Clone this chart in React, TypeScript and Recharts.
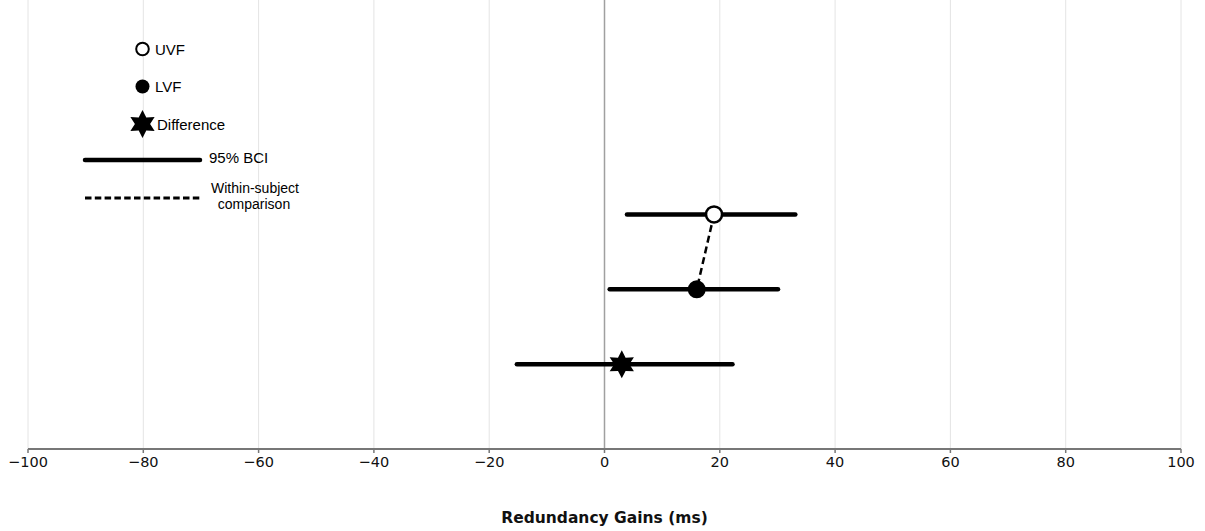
import { ScatterChart, Scatter, XAxis, YAxis, CartesianGrid, ReferenceLine, Label } from 'recharts';

// rows from bottom to top
const conditions = ['Difference', 'LVF', 'UVF'];
const rowLevels = [1, 2, 3];
const means = [3, 16, 19];
const lowerBci = [-15.2, 0.9, 3.9];
const upperBci = [22.2, 30.1, 33.1];

const xTicks = [-100, -80, -60, -40, -20, 0, 20, 40, 60, 80, 100];

const FONT = '"Liberation Sans", Arial, sans-serif';
const AXIS_FONT = '"DejaVu Sans", Verdana, sans-serif';

const point = (i: number) => ({ x: means[i], y: rowLevels[i], name: conditions[i] });
const bci = (i: number) => [
    { x: lowerBci[i], y: rowLevels[i] },
    { x: upperBci[i], y: rowLevels[i] },
];
const iUvf = conditions.indexOf('UVF');
const iLvf = conditions.indexOf('LVF');
const iDiff = conditions.indexOf('Difference');

function starPoints(cx: number, cy: number, outer: number, inner: number) {
    const pts: string[] = [];
    for (let k = 0; k < 12; k++) {
        const a = ((-90 + k * 30) * Math.PI) / 180;
        const r = k % 2 === 0 ? outer : inner;
        pts.push(`${cx + r * Math.cos(a)},${cy + r * Math.sin(a)}`);
    }
    return pts.join(' ');
}

const Nothing = () => <g />;
const OpenDot = (p: any) => <circle cx={p.cx} cy={p.cy} r={8} fill="#fff" stroke="#000" strokeWidth={2.5} />;
const FilledDot = (p: any) => <circle cx={p.cx} cy={p.cy} r={9} fill="#000" />;
const StarDot = (p: any) => <polygon points={starPoints(p.cx, p.cy, 14, 7.6)} fill="#000" />;

const bciLine = { stroke: '#000', strokeWidth: 4.5, strokeLinecap: 'round' as const };

function LegendOverlay() {
    const t = { fontFamily: FONT, fontSize: 15, fill: '#000' };
    const small = { fontFamily: FONT, fontSize: 14, fill: '#000' };
    return (
        <svg
            width={1205}
            height={531}
            style={{ position: 'absolute', left: 0, top: 0, pointerEvents: 'none' }}
        >
            <circle cx={142.5} cy={49} r={6.3} fill="#fff" stroke="#000" strokeWidth={2} />
            <text x={155} y={54.5} {...t}>UVF</text>
            <circle cx={142.5} cy={86.5} r={7} fill="#000" />
            <text x={155} y={92} {...t}>LVF</text>
            <polygon points={starPoints(142.5, 124, 14, 7.6)} fill="#000" />
            <text x={157} y={129.5} {...t}>Difference</text>
            <line x1={85} y1={160} x2={200} y2={160} stroke="#000" strokeWidth={4.5} strokeLinecap="round" />
            <text x={209} y={163} {...t}>95% BCI</text>
            <line x1={85} y1={198} x2={200} y2={198} stroke="#000" strokeWidth={3} strokeDasharray="6.5 3.3" />
            <text x={255} y={193} textAnchor="middle" {...small}>Within-subject</text>
            <text x={254} y={209} textAnchor="middle" {...small}>comparison</text>
        </svg>
    );
}

export default function App() {
    return (
        <div style={{ position: 'absolute', left: 0, top: 0, width: 1205, height: 531, background: '#fff' }}>
            <ScatterChart width={1205} height={531} margin={{ top: 0, right: 24, bottom: 0, left: 28 }}>
                <CartesianGrid horizontal={false} stroke="#e4e4e4" strokeWidth={1} />
                <XAxis
                    dataKey="x"
                    type="number"
                    domain={[-100, 100]}
                    ticks={xTicks}
                    tickFormatter={(v: number) => (v < 0 ? '\u2212' + Math.abs(v) : String(v))}
                    tick={{ fontSize: 14.5, fill: '#111', fontFamily: AXIS_FONT }}
                    axisLine={{ stroke: '#777', strokeWidth: 2 }}
                    tickLine={{ stroke: '#777', strokeWidth: 1.5 }}
                    tickSize={4}
                    tickMargin={4}
                    height={82}
                >
                    <Label
                        value="Redundancy Gains (ms)"
                        position="insideBottom"
                        offset={8}
                        style={{ fontWeight: 'bold', fontSize: 15.5, fontFamily: AXIS_FONT, fill: '#111' }}
                    />
                </XAxis>
                <YAxis dataKey="y" type="number" domain={[-0.13, 5.86]} hide allowDataOverflow />
                <ReferenceLine x={0} stroke="#a0a0a0" strokeWidth={1.5} />

                {conditions.map((c, i) => (
                    <Scatter
                        key={'bci-' + c}
                        data={bci(i)}
                        line={bciLine}
                        shape={Nothing}
                        isAnimationActive={false}
                    />
                ))}
                <Scatter
                    data={[point(iUvf), point(iLvf)]}
                    line={{ stroke: '#000', strokeWidth: 2.5, strokeDasharray: '7 4' }}
                    shape={Nothing}
                    isAnimationActive={false}
                />
                <Scatter data={[point(iUvf)]} shape={OpenDot} isAnimationActive={false} />
                <Scatter data={[point(iLvf)]} shape={FilledDot} isAnimationActive={false} />
                <Scatter data={[point(iDiff)]} shape={StarDot} isAnimationActive={false} />
            </ScatterChart>
            <LegendOverlay />
        </div>
    );
}
